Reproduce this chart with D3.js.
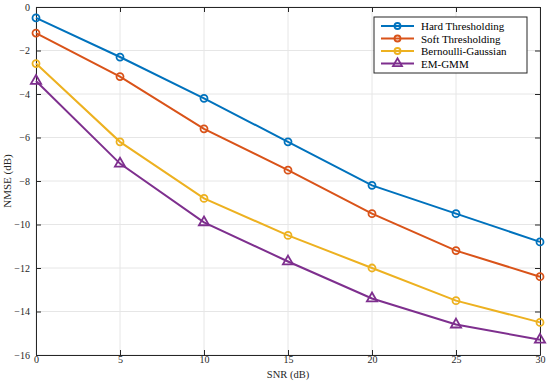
<!DOCTYPE html>
<html>
<head>
<meta charset="utf-8">
<script src="https://cdn.jsdelivr.net/npm/d3@7"></script>
<style>
  body { margin: 0; background: #fff; }
  text { font-family: "Liberation Serif", "Times New Roman", serif; }
</style>
</head>
<body>
<div id="chart"></div>
<script>
const snr = [0, 5, 10, 15, 20, 25, 30];
const hardThresholding = [-0.5, -2.3, -4.2, -6.2, -8.2, -9.5, -10.8];
const softThresholding = [-1.2, -3.2, -5.6, -7.5, -9.5, -11.2, -12.4];
const bernoulliGaussian = [-2.6, -6.2, -8.8, -10.5, -12.0, -13.5, -14.5];
const emGmm = [-3.4, -7.2, -9.9, -11.7, -13.4, -14.6, -15.3];
const xTicks = [0, 5, 10, 15, 20, 25, 30];
const yTicks = [0, -2, -4, -6, -8, -10, -12, -14, -16];

const series = [
    { name: "Hard Thresholding", values: hardThresholding, color: "#0072BD", marker: "circle" },
    { name: "Soft Thresholding", values: softThresholding, color: "#D95319", marker: "circle" },
    { name: "Bernoulli-Gaussian", values: bernoulliGaussian, color: "#EDB120", marker: "circle" },
    { name: "EM-GMM", values: emGmm, color: "#7E2F8E", marker: "triangle" }
];

const W = 550, H = 382;
const margin = { top: 7, right: 10, bottom: 27, left: 36 };
const width = W - margin.left - margin.right;
const height = H - margin.top - margin.bottom;

const svg = d3.select("#chart")
    .append("svg")
    .attr("width", W)
    .attr("height", H);

const g = svg.append("g")
    .attr("transform", `translate(${margin.left},${margin.top})`);

const x = d3.scaleLinear().domain([0, 30]).range([0, width]);
const y = d3.scaleLinear().domain([-16, 0]).range([height, 0]);

// grid
g.append("g").selectAll("line")
    .data(xTicks)
    .enter().append("line")
    .attr("x1", d => x(d)).attr("x2", d => x(d))
    .attr("y1", 0).attr("y2", height)
    .attr("stroke", "#e6e6e6").attr("stroke-width", 1);
g.append("g").selectAll("line")
    .data(yTicks)
    .enter().append("line")
    .attr("y1", d => y(d)).attr("y2", d => y(d))
    .attr("x1", 0).attr("x2", width)
    .attr("stroke", "#e6e6e6").attr("stroke-width", 1);

// axes with inward ticks
const xAxis = g.append("g")
    .attr("transform", `translate(0,${height})`)
    .call(d3.axisBottom(x).tickValues(xTicks).tickSizeInner(-5).tickSizeOuter(0).tickPadding(1));
const xTop = g.append("g")
    .call(d3.axisTop(x).tickValues(xTicks).tickSizeInner(-5).tickSizeOuter(0).tickFormat(""));
const yAxis = g.append("g")
    .call(d3.axisLeft(y).tickValues(yTicks).tickSizeInner(-5).tickSizeOuter(0).tickPadding(6));
const yRight = g.append("g")
    .attr("transform", `translate(${width},0)`)
    .call(d3.axisRight(y).tickValues(yTicks).tickSizeInner(-5).tickSizeOuter(0).tickFormat(""));

[xAxis, xTop, yAxis, yRight].forEach(a => {
    a.selectAll("path, line").attr("stroke", "#262626").attr("stroke-width", 1);
    a.selectAll("text")
        .attr("fill", "#262626")
        .style("font-size", "10px")
        .style("font-family", "'Liberation Serif', serif");
});

// lines
const line = d3.line()
    .x((d, i) => x(snr[i]))
    .y(d => y(d));

const triangle = d3.symbol().type(d3.symbolTriangle).size(45);

series.forEach(s => {
    g.append("path")
        .datum(s.values)
        .attr("fill", "none")
        .attr("stroke", s.color)
        .attr("stroke-width", 2)
        .attr("d", line);

    if (s.marker === "circle") {
        g.selectAll(null)
            .data(s.values)
            .enter().append("circle")
            .attr("cx", (d, i) => x(snr[i]))
            .attr("cy", d => y(d))
            .attr("r", 3.5)
            .attr("fill", "none")
            .attr("stroke", s.color)
            .attr("stroke-width", 1.8);
    } else {
        g.selectAll(null)
            .data(s.values)
            .enter().append("path")
            .attr("d", triangle)
            .attr("transform", (d, i) => `translate(${x(snr[i])},${y(d)})`)
            .attr("fill", "none")
            .attr("stroke", s.color)
            .attr("stroke-width", 1.8);
    }
});

// legend
const legend = svg.append("g").attr("transform", "translate(374,17)");
legend.append("rect")
    .attr("width", 153).attr("height", 56)
    .attr("fill", "#fff")
    .attr("stroke", "#262626").attr("stroke-width", 1);

series.forEach((s, i) => {
    const ly = 9 + i * 12.5;
    const row = legend.append("g").attr("transform", `translate(0,${ly})`);
    row.append("line")
        .attr("x1", 7).attr("x2", 40)
        .attr("stroke", s.color).attr("stroke-width", 2);
    if (s.marker === "circle") {
        row.append("circle").attr("cx", 23.5).attr("r", 3)
            .attr("fill", "none").attr("stroke", s.color).attr("stroke-width", 1.8);
    } else {
        row.append("path").attr("d", d3.symbol().type(d3.symbolTriangle).size(35))
            .attr("transform", "translate(23.5,0)")
            .attr("fill", "none").attr("stroke", s.color).attr("stroke-width", 1.8);
    }
    row.append("text")
        .attr("x", 47).attr("y", 4)
        .style("font-size", "11px")
        .attr("fill", "#000")
        .text(s.name);
});

// axis labels
svg.append("text")
    .attr("x", margin.left + width / 2)
    .attr("y", 378)
    .attr("text-anchor", "middle")
    .style("font-size", "10.5px")
    .attr("fill", "#262626")
    .text("SNR (dB)");

svg.append("text")
    .attr("transform", `translate(11,${margin.top + height / 2}) rotate(-90)`)
    .attr("text-anchor", "middle")
    .style("font-size", "11px")
    .attr("fill", "#262626")
    .text("NMSE (dB)");
</script>
</body>
</html>
